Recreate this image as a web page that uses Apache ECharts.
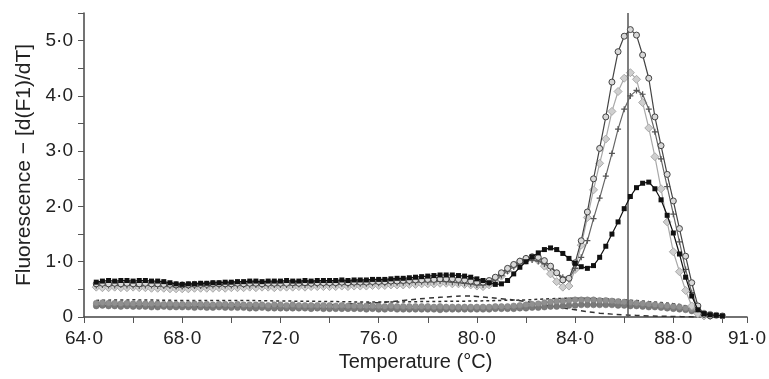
<!DOCTYPE html>
<html>
<head>
<meta charset="utf-8">
<script src="https://cdn.jsdelivr.net/npm/echarts@6/dist/echarts.min.js"></script>
<style>
html,body{margin:0;padding:0;background:#fff;}
#chart{width:769px;height:379px;}
</style>
</head>
<body>
<div id="chart"></div>
<script>
// Temperature grid (°C), 0.25 °C steps
const temps = [
 64.5,64.75,
 65,65.25,65.5,65.75, 66,66.25,66.5,66.75, 67,67.25,67.5,67.75, 68,68.25,68.5,68.75,
 69,69.25,69.5,69.75, 70,70.25,70.5,70.75, 71,71.25,71.5,71.75, 72,72.25,72.5,72.75,
 73,73.25,73.5,73.75, 74,74.25,74.5,74.75, 75,75.25,75.5,75.75, 76,76.25,76.5,76.75,
 77,77.25,77.5,77.75, 78,78.25,78.5,78.75, 79,79.25,79.5,79.75, 80,80.25,80.5,80.75,
 81,81.25,81.5,81.75, 82,82.25,82.5,82.75, 83,83.25,83.5,83.75, 84,84.25,84.5,84.75,
 85,85.25,85.5,85.75, 86,86.25,86.5,86.75, 87,87.25,87.5,87.75, 88,88.25,88.5,88.75,
 89,89.25,89.5,89.75, 90
];

// Sample with open circles (highest peak)
const sampleA = [
 0.60,0.61,
 0.60,0.61,0.60,0.61, 0.60,0.60,0.61,0.60, 0.60,0.59,0.59,0.58, 0.58,0.58,0.59,0.59,
 0.59,0.60,0.60,0.60, 0.60,0.61,0.60,0.61, 0.61,0.60,0.61,0.61, 0.61,0.61,0.62,0.61,
 0.62,0.61,0.62,0.62, 0.62,0.62,0.63,0.62, 0.63,0.63,0.63,0.64, 0.64,0.64,0.65,0.65,
 0.66,0.66,0.67,0.67, 0.68,0.68,0.69,0.69, 0.69,0.68,0.67,0.65, 0.63,0.63,0.66,0.72,
 0.80,0.88,0.95,1.01, 1.06,1.09,1.08,1.02, 0.92,0.80,0.67,0.70, 0.98,1.38,1.90,2.50,
 3.05,3.62,4.25,4.80, 5.08,5.20,5.10,4.74, 4.32,3.62,3.10,2.58, 2.10,1.60,1.10,0.62,
 0.20,0.05,0.02,null, null
];

// Sample with light grey diamonds
const sampleB = [
 0.54,0.53,
 0.53,0.54,0.53,0.53, 0.54,0.53,0.53,0.52, 0.52,0.52,0.51,0.51, 0.51,0.51,0.52,0.52,
 0.52,0.52,0.53,0.52, 0.53,0.53,0.53,0.54, 0.53,0.54,0.54,0.53, 0.54,0.54,0.54,0.55,
 0.54,0.55,0.55,0.55, 0.55,0.55,0.56,0.55, 0.56,0.56,0.56,0.57, 0.57,0.57,0.58,0.58,
 0.58,0.59,0.59,0.60, 0.60,0.60,0.61,0.61, 0.60,0.60,0.59,0.58, 0.56,0.55,0.58,0.65,
 0.74,0.84,0.93,1.00, 1.05,1.06,1.02,0.92, 0.78,0.64,0.54,0.56, 0.86,1.30,1.80,2.30,
 2.78,3.22,3.72,4.08, 4.32,4.42,4.30,3.88, 3.42,2.90,2.32,1.72, 1.18,0.82,0.48,0.20,
 0.06,0.02,null,null, null
];

// Sample with cross markers
const sampleC = [
 0.57,0.58,
 0.57,0.57,0.58,0.57, 0.57,0.56,0.57,0.57, 0.56,0.56,0.56,0.55, 0.55,0.56,0.56,0.56,
 0.56,0.57,0.57,0.57, 0.57,0.57,0.58,0.57, 0.58,0.58,0.57,0.58, 0.58,0.58,0.58,0.59,
 0.58,0.59,0.59,0.59, 0.59,0.59,0.60,0.59, 0.60,0.60,0.60,0.61, 0.61,0.61,0.62,0.62,
 0.62,0.63,0.63,0.64, 0.64,0.64,0.65,0.64, 0.63,0.62,0.61,0.60, 0.58,0.58,0.61,0.67,
 0.75,0.83,0.91,0.97, 1.01,1.03,1.01,0.96, 0.89,0.80,0.72,0.69, 0.88,1.08,1.38,1.78,
 2.15,2.55,2.96,3.40, 3.76,4.00,4.10,4.03, 3.76,3.35,2.86,2.36, 1.86,1.36,0.86,0.44,
 0.14,0.04,0.01,null, null
];

// Sample with black filled markers
const sampleD = [
 0.63,0.65,
 0.66,0.65,0.66,0.66, 0.65,0.66,0.66,0.65, 0.65,0.64,0.62,0.60, 0.59,0.60,0.60,0.61,
 0.61,0.62,0.62,0.63, 0.63,0.64,0.64,0.65, 0.65,0.64,0.65,0.65, 0.65,0.66,0.65,0.65,
 0.66,0.65,0.66,0.66, 0.66,0.66,0.67,0.66, 0.67,0.67,0.67,0.68, 0.68,0.68,0.69,0.70,
 0.70,0.71,0.72,0.73, 0.74,0.75,0.76,0.76, 0.76,0.75,0.74,0.72, 0.69,0.66,0.62,0.59,
 0.60,0.66,0.78,0.90, 1.00,1.09,1.16,1.22, 1.25,1.22,1.15,1.06, 0.97,0.91,0.88,0.93,
 1.08,1.28,1.50,1.72, 1.96,2.18,2.34,2.42, 2.44,2.32,2.12,1.84, 1.52,1.14,0.72,0.38,
 0.13,0.06,0.04,0.03, 0.02
];

// Low-signal samples with grey markers
const sampleE = [
 0.25,0.26,
 0.25,0.25,0.24,0.25, 0.24,0.25,0.24,0.24, 0.24,0.23,0.24,0.23, 0.23,0.23,0.24,0.23,
 0.23,0.22,0.23,0.23, 0.22,0.23,0.22,0.22, 0.22,0.22,0.21,0.22, 0.22,0.21,0.22,0.21,
 0.21,0.21,0.21,0.21, 0.21,0.20,0.21,0.20, 0.20,0.20,0.20,0.20, 0.20,0.19,0.20,0.19,
 0.19,0.19,0.19,0.19, 0.19,0.18,0.19,0.18, 0.18,0.18,0.18,0.18, 0.18,0.18,0.18,0.19,
 0.19,0.19,0.20,0.21, 0.22,0.23,0.24,0.26, 0.27,0.28,0.29,0.30, 0.31,0.31,0.31,0.31,
 0.30,0.30,0.29,0.28, 0.27,0.26,0.25,0.24, 0.23,0.22,0.21,0.20, 0.19,0.18,0.16,0.14,
 0.10,0.07,0.05,0.03, 0.02
];

const sampleF = [
 0.20,0.21,
 0.20,0.20,0.19,0.20, 0.19,0.19,0.19,0.18, 0.18,0.19,0.18,0.18, 0.18,0.18,0.17,0.18,
 0.17,0.17,0.18,0.17, 0.17,0.17,0.17,0.16, 0.16,0.17,0.16,0.16, 0.16,0.16,0.16,0.16,
 0.16,0.15,0.16,0.15, 0.15,0.15,0.15,0.15, 0.15,0.15,0.14,0.15, 0.14,0.14,0.15,0.14,
 0.14,0.14,0.14,0.14, 0.14,0.14,0.13,0.14, 0.14,0.14,0.14,0.14, 0.14,0.14,0.14,0.15,
 0.15,0.15,0.15,0.16, 0.16,0.17,0.17,0.18, 0.19,0.19,0.20,0.21, 0.21,0.22,0.22,0.22,
 0.22,0.22,0.22,0.21, 0.21,0.20,0.20,0.19, 0.18,0.18,0.17,0.16, 0.15,0.14,0.13,0.11,
 0.08,0.06,0.04,0.03, 0.02
];

// Controls drawn as dashed / dotted lines (temperature, value)
const dashedTemps = [64.5,66,68,70,72,74,75,76,77,78,79,79.5,80,81,82,83,84,85,86,87,88,89];
const dashedVals  = [0.20,0.20,0.19,0.19,0.20,0.22,0.24,0.26,0.30,0.34,0.37,0.38,0.37,0.33,0.28,0.20,0.13,0.07,0.04,0.02,0.01,0.00];
const dottedTemps = [64.5,66,68,70,72,74,76,78,80,81,82,83,84,85,86,87,88,88.5,89,89.5,90];
const dottedVals  = [0.30,0.31,0.30,0.30,0.29,0.28,0.27,0.28,0.29,0.30,0.31,0.33,0.34,0.33,0.31,0.28,0.24,0.20,0.10,0.03,0.00];

// Cursor line temperature
const cursorTemp = 86.15;

// Axis settings
const xMin = 64, xMax = 91, xStep = 2, xLabelEvery = 4;
const yMin = 0, yMax = 5.5, yStep = 0.5;

function zip(xs, ys){ return xs.map((x,i)=>[x, ys[i]]); }
function fmt(v){ return v.toFixed(1).replace('.', '\u00B7'); }

const FONT = '"Liberation Sans", Arial, Helvetica, sans-serif';
const plusPath = 'path://M4,0h2v4h4v2h-4v4h-2v-4h-4v-2h4z';

const chart = echarts.init(document.getElementById('chart'), null, {renderer:'canvas'});
chart.setOption({
  animation: false,
  backgroundColor: '#ffffff',
  grid: {left: 84, right: 17, top: 13, bottom: 62},
  xAxis: {
    type: 'value', min: xMin, max: xMax, interval: xStep,
    name: 'Temperature (\u00B0C)', nameLocation: 'middle', nameGap: 28,
    nameTextStyle: {fontFamily: FONT, fontSize: 20, color: '#222'},
    axisLine: {lineStyle: {color: '#444', width: 1.5}},
    axisTick: {show: true, length: 6, lineStyle: {color: '#555', width: 1}},
    axisLabel: {
      fontFamily: FONT, fontSize: 19, color: '#222', margin: 12,
      showMinLabel: true, showMaxLabel: true,
      formatter: v => (v % xLabelEvery === 0 || v === xMax) ? fmt(v) : ''
    },
    splitLine: {show: false}
  },
  yAxis: {
    type: 'value', min: yMin, max: yMax, interval: yStep,
    name: 'Fluorescence \u2212 [d(F1)/dT]', nameLocation: 'middle', nameGap: 47,
    nameTextStyle: {fontFamily: FONT, fontSize: 21, color: '#222'},
    axisLine: {show: true, lineStyle: {color: '#444', width: 1.5}},
    axisTick: {show: true, length: 6, lineStyle: {color: '#555', width: 1}},
    axisLabel: {
      fontFamily: FONT, fontSize: 19, color: '#222', margin: 11,
      formatter: v => Math.abs(v - Math.round(v)) < 1e-9 ? (v === 0 ? '0' : fmt(v)) : ''
    },
    splitLine: {show: false}
  },
  series: [
    {type:'line', name:'dashed', data: zip(dashedTemps, dashedVals), smooth: 0.4, showSymbol:false,
     lineStyle:{color:'#333', width:1.5, type:[5,4]}, z:2},
    {type:'line', name:'dotted', data: zip(dottedTemps, dottedVals), smooth: 0.4, showSymbol:false,
     lineStyle:{color:'#333', width:1.5, type:[3,3]}, z:2},
    {type:'line', name:'F', data: zip(temps, sampleF), symbol:'circle', symbolSize:6,
     lineStyle:{color:'#777', width:1}, itemStyle:{color:'#7a7a7a', borderColor:'#666', borderWidth:0.5}, z:3},
    {type:'line', name:'E', data: zip(temps, sampleE), symbol:'circle', symbolSize:6,
     lineStyle:{color:'#888', width:1}, itemStyle:{color:'#909090', borderColor:'#777', borderWidth:0.5}, z:3},
    {type:'line', name:'B', data: zip(temps, sampleB), symbol:'diamond', symbolSize:8,
     lineStyle:{color:'#a8a8a8', width:1.2}, itemStyle:{color:'#cfcfcf', borderColor:'#aaa', borderWidth:1}, z:4},
    {type:'line', name:'C', data: zip(temps, sampleC), symbol: plusPath, symbolSize:6,
     lineStyle:{color:'#666', width:1.2}, itemStyle:{color:'#555'}, z:5},
    {type:'line', name:'A', data: zip(temps, sampleA), symbol:'circle', symbolSize:6,
     lineStyle:{color:'#444', width:1.2}, itemStyle:{color:'#d8d8d8', borderColor:'#444', borderWidth:1}, z:6,
     markLine:{silent:true, symbol:'none', label:{show:false},
       lineStyle:{color:'#555', width:1.5, type:'solid'}, data:[{xAxis: cursorTemp}]}},
    {type:'line', name:'D', data: zip(temps, sampleD), symbol:'rect', symbolSize:5,
     lineStyle:{color:'#111', width:1.2}, itemStyle:{color:'#111'}, z:7}
  ]
});
</script>
</body>
</html>
